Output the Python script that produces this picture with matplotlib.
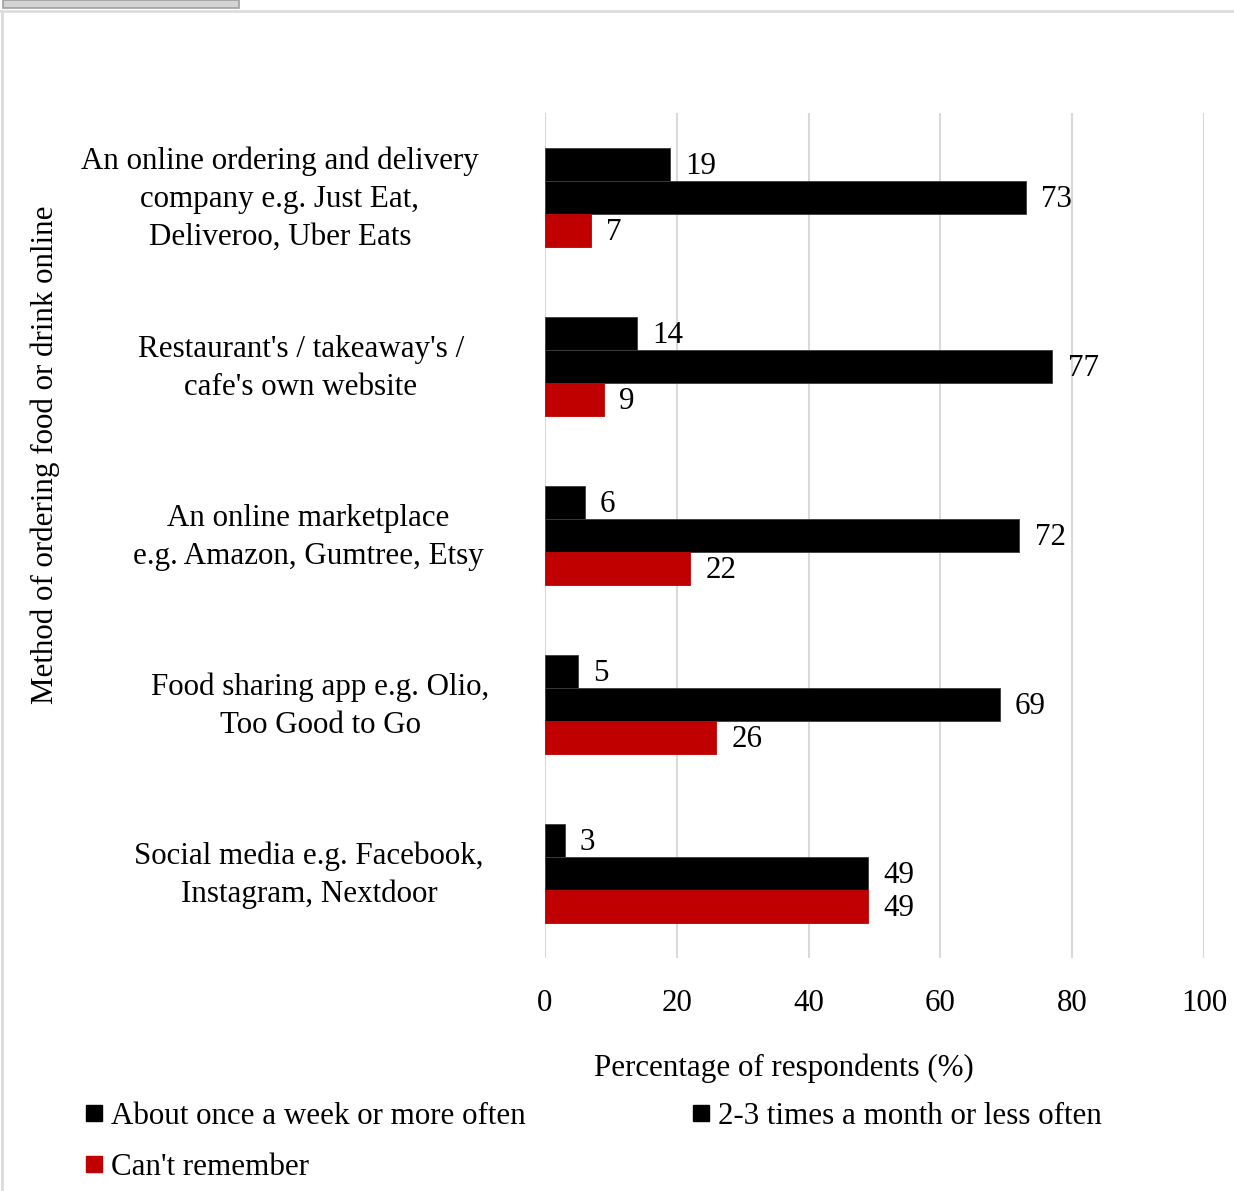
import numpy as np
import matplotlib
matplotlib.use("Agg")
import matplotlib.pyplot as plt
import matplotlib.transforms as mtransforms
from matplotlib.lines import Line2D
from matplotlib.patches import Rectangle

plt.rcParams['font.family'] = ['Liberation Serif', 'DejaVu Serif']
plt.rcParams['font.size'] = 22.3

########

methods = [
    "An online ordering and delivery\ncompany e.g. Just Eat,\nDeliveroo, Uber Eats",
    "Restaurant's / takeaway's /\ncafe's own website",
    "An online marketplace\ne.g. Amazon, Gumtree, Etsy",
    "Food sharing app e.g. Olio,\nToo Good to Go",
    "Social media e.g. Facebook,\nInstagram, Nextdoor",
]

weekly = [19, 14, 6, 5, 3]
monthly = [73, 77, 72, 69, 49]
cant_remember = [7, 9, 22, 26, 49]

series_names = ["About once a week or more often",
                "2-3 times a month or less often",
                "Can't remember"]

xticks = [0, 20, 40, 60, 80, 100]

########

W, H = 1234, 1191
fig = plt.figure(figsize=(W / 100, H / 100), dpi=100)

# page decorations (frame + grey tab at top left)
fig.patches.append(Rectangle((3 / W, 1 - 8 / H), 236 / W, 8 / H, transform=fig.transFigure,
                             facecolor='#d4d4d4', edgecolor='#a0a0a0', lw=1.2))
fig.add_artist(Line2D([0, 1], [1 - 11 / H, 1 - 11 / H], transform=fig.transFigure,
                      color='#dcdcdc', lw=2))
fig.add_artist(Line2D([1.5 / W, 1.5 / W], [0, 1 - 11 / H], transform=fig.transFigure,
                      color='#dcdcdc', lw=2))

ax = fig.add_axes([545 / W, 1 - 958 / H, 659 / W, 845 / H])

y = np.arange(len(methods))
h = 0.195
colors = ['#000000', '#000000', '#c00000']
data = [weekly, monthly, cant_remember]

for k, (vals, col) in enumerate(zip(data, colors)):
    pos = y + (k - 1) * h
    ax.barh(pos, vals, height=h, color=col, edgecolor='#3c3c3c' if k < 2 else col,
            lw=0.6, zorder=3)
    for p, v in zip(pos, vals):
        ax.text(v + 2.3, p + 0.01, str(v), va='center', ha='left', zorder=4)

ax.set_xlim(0, 100)
ax.set_ylim(len(methods) - 0.5, -0.5)
ax.set_xticks(xticks)
ax.set_yticks(y)
ax.set_yticklabels([])
ax.tick_params(axis='y', length=0)
ax.tick_params(axis='x', length=0, pad=22)
ax.grid(axis='x', color='#d9d9d9', lw=1.5, zorder=0)
for s in ax.spines.values():
    s.set_visible(False)

# category labels: centred text blocks left of the plot (Excel-like text box placement)
label_x = [280, 301, 308, 320, 309]   # px centre of each text block
trans = mtransforms.blended_transform_factory(ax.transAxes, ax.transData)
for yi, txt, lx in zip(y, methods, label_x):
    ax.text((lx - 545) / 659, yi + 0.01, txt, transform=trans, ha='center', va='center',
            multialignment='center', linespacing=1.4)

ax.set_xlabel("Percentage of respondents (%)")
ax.xaxis.set_label_coords((784 - 545) / 659, -(1068 - 958) / 845)
ax.xaxis.label.set_va('center')
fig.text(45 / W, 1 - 455 / H, "Method of ordering food or drink online",
         rotation=90, ha='center', va='center')

handles = [Line2D([], [], marker='s', ls='none', color=c, markersize=11.5) for c in colors]
order = [0, 2, 1]
fig.legend([handles[i] for i in order], [series_names[i] for i in order],
           loc='upper left', bbox_to_anchor=(85 / W, 1 - 1102 / H), ncol=2,
           frameon=False, borderpad=0, borderaxespad=0, handlelength=0.6,
           handletextpad=0.25, columnspacing=5.34, labelspacing=0.72)

plt.savefig("out.png", dpi=100)
